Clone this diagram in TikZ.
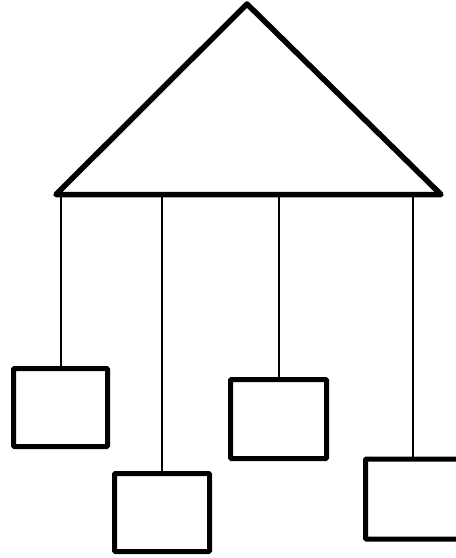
\documentclass[tikz,border=0pt]{standalone}
\begin{document}
\begin{tikzpicture}[x=1pt,y=-1pt,
  roof/.style={line width=5.5pt,line join=round,line cap=round},
  box/.style={draw,line width=5pt,rounded corners=1pt,minimum width=#1,minimum height=78pt,inner sep=0pt,outer sep=0pt},
  string/.style={line width=2pt}]
\useasboundingbox (0,0) rectangle (456,558);
\clip (0,0) rectangle (456,558);
\coordinate (apex) at (247,4);
\coordinate (left) at (56,194.5);
\coordinate (right) at (441,194.5);
\draw[roof] (left) -- (apex) -- (right) -- cycle;
\coordinate (p1) at (61,196);
\coordinate (p2) at (162,196);
\coordinate (p3) at (278.5,196);
\coordinate (p4) at (413,196);
\node[box=94pt] (b1) at (60.5,407.5) {};
\node[box=95pt] (b2) at (162,512.5) {};
\node[box=96pt,minimum height=79pt] (b3) at (278.5,419) {};
\node[box=95pt,minimum height=80pt] (b4) at (413,499) {};
\draw[string] (p1) -- (p1 |- b1.north);
\draw[string] (p2) -- (p2 |- b2.north);
\draw[string] (p3) -- (p3 |- b3.north);
\draw[string] (p4) -- (p4 |- b4.north);
\end{tikzpicture}
\end{document}
